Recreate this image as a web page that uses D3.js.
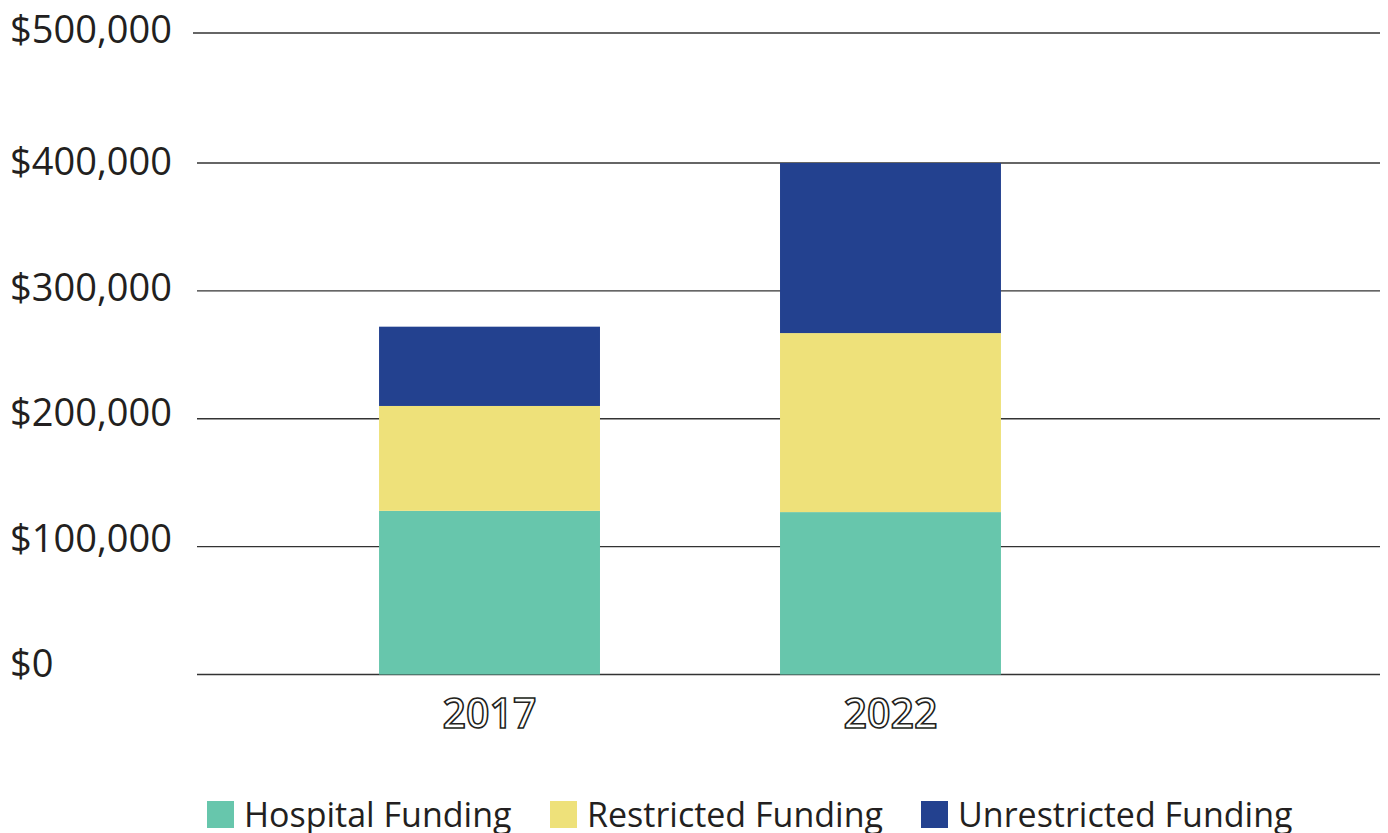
<!DOCTYPE html>
<html>
<head>
<meta charset="utf-8">
<script src="https://cdn.jsdelivr.net/npm/d3@7"></script>
<style>
  html, body { margin: 0; padding: 0; background: #fff; }
  svg { display: block; font-family: "Open Sans", sans-serif; }
</style>
</head>
<body>
<div id="chart"></div>
<script>
// chart data
const years = ["2017", "2022"];
const seriesNames = ["Hospital Funding", "Restricted Funding", "Unrestricted Funding"];
const hospital = [128000, 127000];
const restricted = [82000, 140000];
const unrestricted = [62000, 133000];
const yTicks = [0, 100000, 200000, 300000, 400000, 500000];
const colors = ["#67c6ac", "#eee17a", "#23418f"];

const width = 1388, height = 833;

const svg = d3.select("#chart")
              .append("svg")
              .attr("width", width)
              .attr("height", height);

const rows = years.map((yr, i) => ({
    year: yr,
    "Hospital Funding": hospital[i],
    "Restricted Funding": restricted[i],
    "Unrestricted Funding": unrestricted[i]
}));

const stacked = d3.stack().keys(seriesNames)(rows);

const x = d3.scaleBand()
            .domain(years)
            .range([197, 1183])
            .paddingInner(0.449)
            .paddingOuter(0.454);

// the top gap in the original is a touch taller than the others
const y = d3.scaleLinear().domain([0, 400000, 500000]).range([674.5, 163, 33]);
const yLabel = d3.scaleLinear().domain([0, 400000, 500000]).range([677, 175, 43]);

const color = d3.scaleOrdinal().domain(seriesNames).range(colors);
const fmt = v => "$" + d3.format(",")(v);

// gridlines
svg.append("g")
   .selectAll("line")
   .data(yTicks)
   .join("line")
   .attr("x1", d => d === 500000 ? 193 : 197)
   .attr("x2", 1380)
   .attr("y1", d => y(d))
   .attr("y2", d => y(d))
   .attr("stroke", "#333")
   .attr("stroke-width", 1.4);

// y labels
svg.append("g")
   .selectAll("text")
   .data(yTicks)
   .join("text")
   .attr("x", 10)
   .attr("y", d => yLabel(d))
   .attr("font-size", 38)
   .attr("fill", "#231f20")
   .text(fmt);

// stacked bars
svg.append("g")
   .selectAll("g")
   .data(stacked)
   .join("g")
   .attr("fill", d => color(d.key))
   .selectAll("rect")
   .data(d => d)
   .join("rect")
   .attr("x", d => x(d.data.year))
   .attr("width", x.bandwidth())
   .attr("y", d => y(d[1]))
   .attr("height", d => y(d[0]) - y(d[1]));

// year labels (outlined text)
svg.append("g")
   .selectAll("text")
   .data(years)
   .join("text")
   .attr("x", d => x(d) + x.bandwidth() / 2)
   .attr("y", 728)
   .attr("text-anchor", "middle")
   .attr("font-size", 41)
   .attr("font-weight", 600)
   .attr("fill", "#fff")
   .attr("stroke", "#231f20")
   .attr("stroke-width", 1.6)
   .text(d => d);

// legend
const legendX = [207, 550, 921];
const legend = svg.append("g")
                  .selectAll("g")
                  .data(seriesNames)
                  .join("g")
                  .attr("transform", (d, i) => `translate(${legendX[i]},801)`);

legend.append("rect")
      .attr("width", 27)
      .attr("height", 27)
      .attr("fill", d => color(d));

legend.append("text")
      .attr("x", 37)
      .attr("y", 26)
      .attr("font-size", 34)
      .attr("fill", "#231f20")
      .text(d => d);
</script>
</body>
</html>
